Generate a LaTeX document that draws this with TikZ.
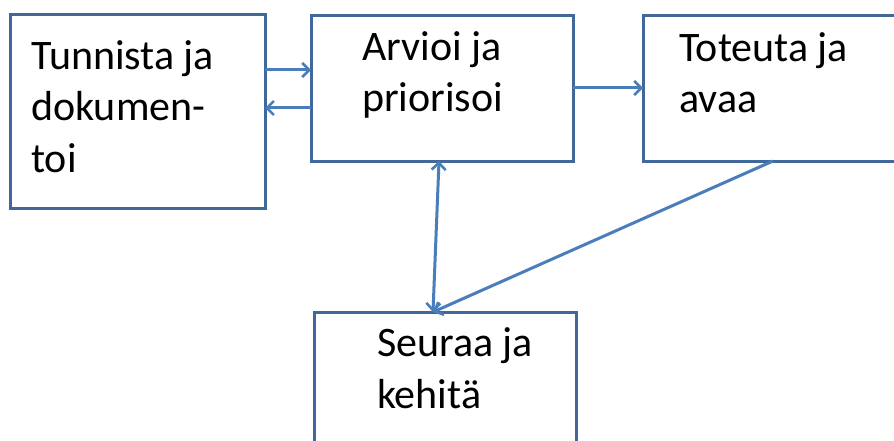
\documentclass[tikz,border=0pt]{standalone}
\usepackage{fontspec}
\setmainfont{Carlito}
\usetikzlibrary{arrows.meta}
\definecolor{boxc}{HTML}{41689A}
\definecolor{arrc}{HTML}{4A7EBB}
\tikzset{
  box/.style={draw=boxc, line width=3pt, rectangle, inner sep=0pt, outer sep=0pt},
  lbl/.style={anchor=base west, inner sep=0pt, align=left, font=\fontsize{42pt}{51.5pt}\selectfont, text=black},
  tip/.style={},
  arr/.style={draw=arrc, line width=3pt, -{Straight Barb[length=7pt,width=14pt,line width=2.6pt]}},
  darr/.style={draw=arrc, line width=3pt, {Straight Barb[length=7pt,width=14pt,line width=2.6pt]}-{Straight Barb[length=7pt,width=14pt,line width=2.6pt]}}
}
\begin{document}
\begin{tikzpicture}[x=1pt,y=-1pt]
\useasboundingbox (0,0) rectangle (894,441);
\clip (0,0) rectangle (894,441);
\fill[white] (0,0) rectangle (894,441);
\node[box, minimum width=255pt, minimum height=193pt] (b1) at (137.5,111.5) {};
\node[box, minimum width=262pt, minimum height=145pt] (b2) at (442,88.5) {};
\node[box, minimum width=287pt, minimum height=145pt] (b3) at (786.5,88.5) {};
\node[box, minimum width=262pt, minimum height=158pt] (b4) at (445,391) {};
\node[lbl] (t1) at (31,172) {Tunnista ja\\dokumen-\\toi};
\node[lbl] (t2) at (362,112) {Arvioi ja\\priorisoi};
\node[lbl] (t3) at (679,113) {Toteuta ja\\avaa};
\node[lbl] (t4) at (377,408) {Seuraa ja\\kehitä};
\draw[arr] (b1.east |- 0,70) -- (b2.west |- 0,70);
\draw[arr] (b2.west |- 0,108) -- (b1.east |- 0,108);
\draw[arr] (b2.east |- 0,88) -- (b3.west |- 0,88);
\coordinate (vb) at (433,312);
\coordinate (vt) at (439,161);
\draw[darr] (b4.north -| vb) -- (b2.south -| vt);
\coordinate (ds) at (773,161);
\draw[arr] (b3.south -| ds) -- (b4.north -| vb);
\end{tikzpicture}
\end{document}
